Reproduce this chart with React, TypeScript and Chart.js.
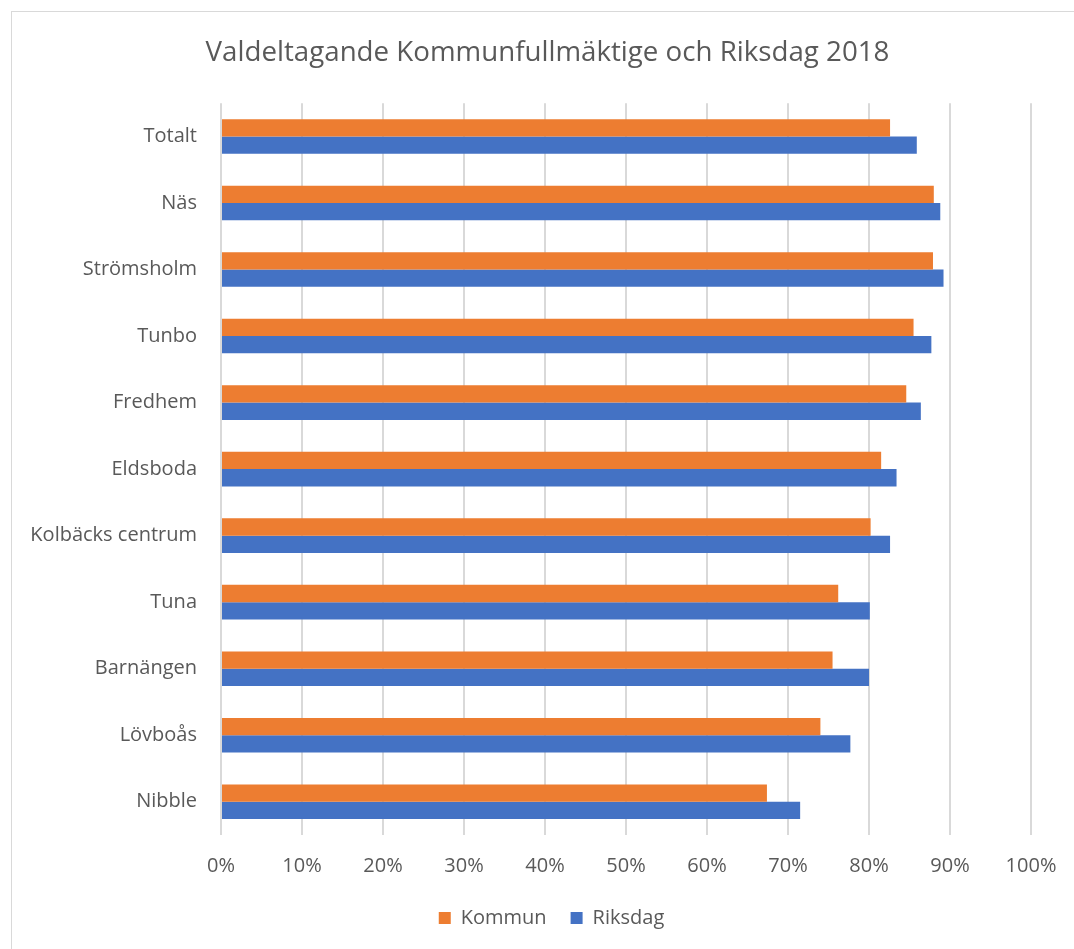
import React, { useEffect, useRef } from "react";
import { Chart, registerables } from "chart.js";

Chart.register(...registerables);

const categories = [
  "Totalt",
  "Näs",
  "Strömsholm",
  "Tunbo",
  "Fredhem",
  "Eldsboda",
  "Kolbäcks centrum",
  "Tuna",
  "Barnängen",
  "Lövboås",
  "Nibble",
];
const kommun = [82.6, 88.0, 87.9, 85.5, 84.6, 81.5, 80.2, 76.2, 75.5, 74.0, 67.4];
const riksdag = [85.9, 88.8, 89.2, 87.7, 86.4, 83.4, 82.6, 80.1, 80.0, 77.7, 71.5];
const xTicks = [0, 10, 20, 30, 40, 50, 60, 70, 80, 90, 100];
const title = "Valdeltagande Kommunfullmäktige och Riksdag 2018";

const FONT = "'Open Sans', sans-serif";
const GRAY = "#595959";

// Excel centres title and legend on the full chart frame (which is wider than the plot box here)
const shiftPlugin = {
  id: "shiftBlocks",
  afterLayout(chart: any) {
    const t = chart.titleBlock;
    if (t) {
      t.left += 20;
      t.right += 20;
    }
    const l = chart.legend;
    if (l) {
      l.left += 24;
      l.right += 24;
    }
  },
};

export default function App() {
  const ref = useRef<HTMLCanvasElement>(null);
  useEffect(() => {
    if (!ref.current) return;
    const chart = new Chart(ref.current, {
      type: "bar",
      data: {
        labels: categories,
        datasets: [
          {
            label: "Kommun",
            data: kommun,
            backgroundColor: "#ED7D31",
            categoryPercentage: 0.52,
            barPercentage: 1.0,
          },
          {
            label: "Riksdag",
            data: riksdag,
            backgroundColor: "#4472C4",
            categoryPercentage: 0.52,
            barPercentage: 1.0,
          },
        ],
      },
      plugins: [shiftPlugin],
      options: {
        indexAxis: "y",
        animation: false,
        responsive: false,
        layout: { padding: { left: 12, right: 43, top: 0, bottom: 11 } },
        plugins: {
          title: {
            display: true,
            text: title,
            color: GRAY,
            font: { family: FONT, size: 27.7, weight: "normal" },
            padding: { top: 24, bottom: 34 },
          },
          legend: {
            position: "bottom",
            labels: {
              boxWidth: 12,
              boxHeight: 12,
              color: GRAY,
              font: { family: FONT, size: 20 },
              padding: 24,
            },
          },
          tooltip: { enabled: false },
        },
        scales: {
          x: {
            min: 0,
            max: 100,
            afterBuildTicks: (s: any) => {
              s.ticks = xTicks.map((v) => ({ value: v }));
            },
            afterFit: (s: any) => {
              s.height = 49;
              s.paddingLeft = 0;
              s.paddingRight = 0;
            },
            ticks: {
              color: GRAY,
              font: { family: FONT, size: 20 },
              padding: 19,
              callback: (v: any) => v + "%",
            },
            grid: { color: "#d9d9d9", lineWidth: 2, drawTicks: false },
            border: { display: false },
          },
          y: {
            afterFit: (s: any) => {
              s.width = 197;
            },
            ticks: {
              color: GRAY,
              font: { family: FONT, size: 20 },
              padding: 24,
            },
            grid: { display: false, drawTicks: false },
            border: { display: false },
          },
        },
      },
    });
    return () => chart.destroy();
  }, []);
  return (
    <div
      style={{
        position: "fixed",
        left: 11,
        top: 11,
        width: 1080,
        height: 960,
        border: "1px solid #d9d9d9",
        background: "#fff",
      }}
    >
      <canvas ref={ref} width={1062} height={937} style={{ display: "block" }} />
    </div>
  );
}
